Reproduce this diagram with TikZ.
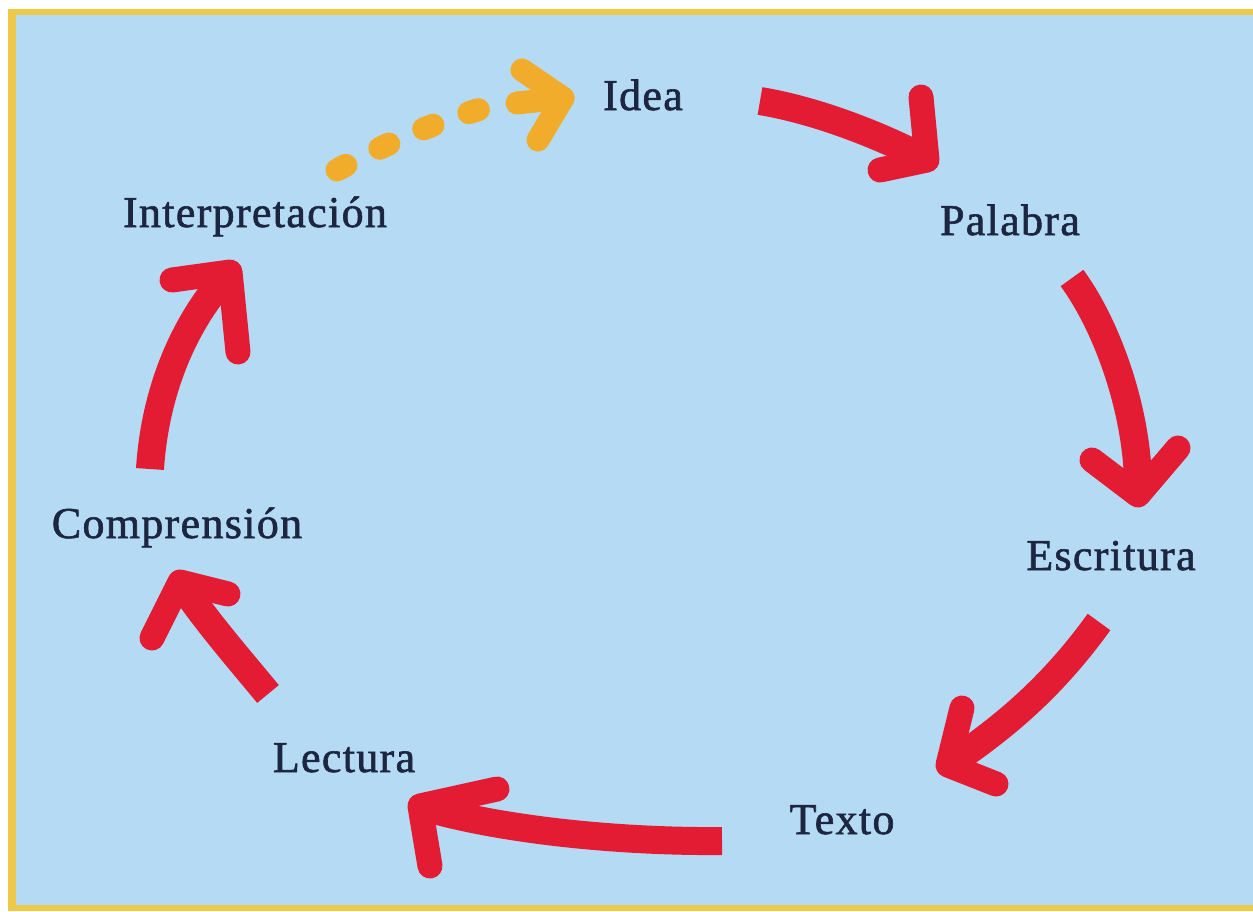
\documentclass[tikz,border=0pt]{standalone}
\usepackage{fontspec}
\setmainfont{Liberation Serif}[LetterSpace=3, FakeBold=1.4]
\definecolor{sky}{HTML}{B5DAF3}
\definecolor{frame}{HTML}{EDC94A}
\definecolor{arrowred}{HTML}{E31B33}
\definecolor{dashorange}{HTML}{F2AC2C}
\definecolor{ink}{HTML}{1D2640}

\begin{document}
\begin{tikzpicture}[x=1pt, y=-1pt,
        word/.style={ink, font=\fontsize{44}{48}\selectfont, anchor=base, inner sep=0pt},
        shaft/.style={arrowred, line width=28pt},
        barb/.style={arrowred, line width=25pt, line cap=round, line join=round},
        hop/.style={dashorange, line width=23pt, line cap=round, dash pattern=on 10pt off 38pt},
        hophead/.style={dashorange, line width=23pt, line cap=round, line join=round}]
        % background and frame
        \fill[white] (0,0) rectangle (1253,911);
        \fill[frame] (8,9) rectangle (1253,911);
        \fill[sky] (16,15) rectangle (1253,905);

        \node[word] (idea) at (643,110) {Idea};
        \node[word] (palabra) at (1010,235) {Palabra};
        \node[word] (escritura) at (1111,570) {Escritura};
        \node[word] (texto) at (842,834) {Texto};
        \node[word] (lectura) at (344,772) {Lectura};
        \node[word] (comprension) at (177,538) {Comprensión};
        \node[word] (interpretacion) at (255,227) {Interpretación};

        % end points of the strokes
        \coordinate (s0) at (337,170);  \coordinate (e0) at (484,108);
        \coordinate (h0) at (563,98);   \coordinate (l0) at (522,70);
        \coordinate (r0) at (538,140);  \coordinate (b0) at (517,103);
        \coordinate (s1) at (760,101);  \coordinate (h1) at (927,160);
        \coordinate (l1) at (921,97);   \coordinate (r1) at (880,170);
        \coordinate (s2) at (1072,278); \coordinate (h2) at (1138,495);
        \coordinate (l2) at (1092,460); \coordinate (r2) at (1178,448);
        \coordinate (s3) at (1099,622); \coordinate (h3) at (948,765);
        \coordinate (l3) at (962,708);  \coordinate (r3) at (996,784);
        \coordinate (s4) at (722,841);  \coordinate (h4) at (420,806);
        \coordinate (l4) at (497,789);  \coordinate (r4) at (430,866);
        \coordinate (s5) at (268,694);  \coordinate (h5) at (180,582);
        \coordinate (l5) at (152,638);  \coordinate (r5) at (228,594);
        \coordinate (s6) at (150,469);  \coordinate (h6) at (230,272);
        \coordinate (l6) at (172,280);  \coordinate (r6) at (238,352);

        % Interpretacion -> Idea
        \draw[hop] (s0) .. controls (390,142) and (430,124) .. (e0);
        \draw[hophead] (l0) -- (h0) -- (r0);
        \draw[hophead] (b0) -- (h0);

        % Idea -> Palabra
        \draw[shaft] (s1) .. controls (815,110) and (880,135) .. (h1);
        \draw[barb] (l1) -- (h1) -- (r1);
        % Palabra -> Escritura
        \draw[shaft] (s2) .. controls (1110,330) and (1140,420) .. (h2);
        \draw[barb] (l2) -- (h2) -- (r2);
        % Escritura -> Texto
        \draw[shaft] (s3) .. controls (1050,690) and (1000,730) .. (h3);
        \draw[barb] (l3) -- (h3) -- (r3);
        % Texto -> Lectura
        \draw[shaft] (s4) .. controls (620,842) and (500,830) .. (h4);
        \draw[barb] (l4) -- (h4) -- (r4);
        % Lectura -> Comprension
        \draw[shaft] (s5) .. controls (240,660) and (205,620) .. (h5);
        \draw[barb] (l5) -- (h5) -- (r5);
        % Comprension -> Interpretacion
        \draw[shaft] (s6) .. controls (155,390) and (185,320) .. (h6);
        \draw[barb] (l6) -- (h6) -- (r6);
\end{tikzpicture}
\end{document}
